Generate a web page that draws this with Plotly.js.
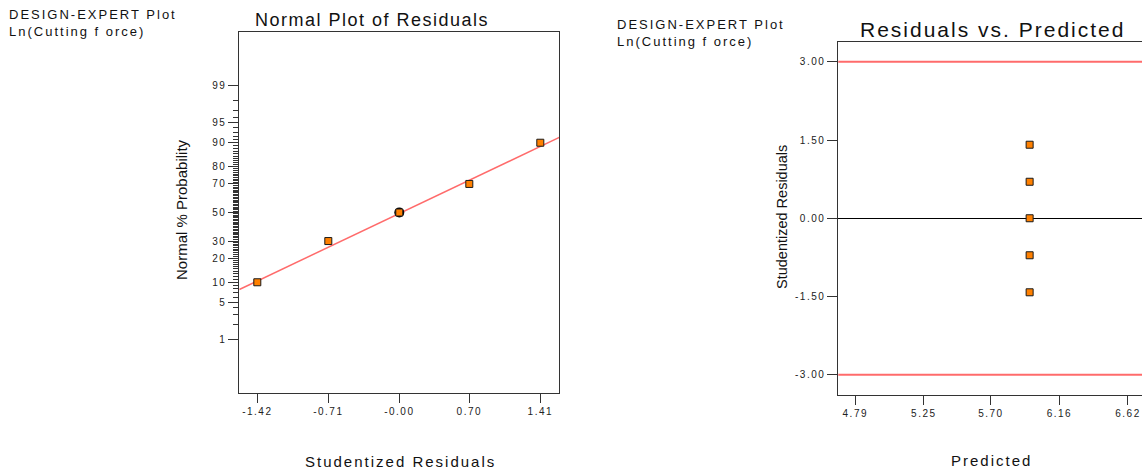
<!DOCTYPE html>
<html><head><meta charset="utf-8">
<script src="https://cdn.plot.ly/plotly-3.0.1.min.js"></script>
<style>
html,body{margin:0;padding:0;overflow:hidden;background:#fff}
.xtick text,.ytick text,.x2tick text,.y2tick text{letter-spacing:1.5px}
g.annotation[data-index="0"] text, g.annotation[data-index="1"] text{letter-spacing:2px}
g.annotation[data-index="2"] text{letter-spacing:1.5px}
g.annotation[data-index="3"] text{letter-spacing:2px}
g.annotation[data-index="4"] text, g.annotation[data-index="5"] text{letter-spacing:2px}
</style></head><body><div id="chart" style="width:1142px;height:470px"></div>
<script>
// ---- data ----
var residuals = [-1.42, -0.71, 0.00, 0.70, 1.41];        // studentized residuals
var normalProb = [10, 30, 50, 70, 90];                  // normal % probability
var multiPointRes = [0.00];                             // circled (repeated) point
var multiPointProb = [50];
var fitX = [-1.6, 1.6];                                 // fitted normal line ends
var fitProb = [7.85, 91.6];
var predicted = [5.96, 5.96, 5.96, 5.96, 5.96];
var residByRun = [1.41, 0.70, 0.00, -0.71, -1.42];
var limits = [-3.00, 3.00];
var resTickVals = [-1.42, -0.71, 0.00, 0.70, 1.41];
var resTickText = ['-1.42', '-0.71', '-0.00', '0.70', '1.41'];
var probTickVals = [1, 5, 10, 20, 30, 50, 70, 80, 90, 95, 99];
var probTickText = ['1', '5', '10', '20', '30', '50', '70', '80', '90', '95', '99'];
var predTickVals = [4.79, 5.25, 5.70, 6.16, 6.62];
var predTickText = ['4.79', '5.25', '5.70', '6.16', '6.62'];
var studTickVals = [-3, -1.5, 0, 1.5, 3];
var studTickText = ['-3.00', '-1.50', '0.00', '1.50', '3.00'];

// ---- normal probability scale (inverse normal CDF of percent) ----
function probit(pct) {
  var p = pct / 100;
  var a = [-3.969683028665376e+01, 2.209460984245205e+02, -2.759285104469687e+02, 1.383577518672690e+02, -3.066479806614716e+01, 2.506628277459239e+00];
  var b = [-5.447609879822406e+01, 1.615858368580409e+02, -1.556989798598866e+02, 6.680131188771972e+01, -1.328068155288572e+01];
  var c = [-7.784894002430293e-03, -3.223964580411365e-01, -2.400758277161838e+00, -2.549732539343734e+00, 4.374664141464968e+00, 2.938163982698783e+00];
  var d = [7.784695709041462e-03, 3.224671290700398e-01, 2.445134137142996e+00, 3.754408661907416e+00];
  var pl = 0.02425, q, r;
  if (p < pl) { q = Math.sqrt(-2 * Math.log(p));
    return (((((c[0]*q+c[1])*q+c[2])*q+c[3])*q+c[4])*q+c[5]) / ((((d[0]*q+d[1])*q+d[2])*q+d[3])*q+1); }
  if (p > 1 - pl) { q = Math.sqrt(-2 * Math.log(1 - p));
    return -(((((c[0]*q+c[1])*q+c[2])*q+c[3])*q+c[4])*q+c[5]) / ((((d[0]*q+d[1])*q+d[2])*q+d[3])*q+1); }
  q = p - 0.5; r = q * q;
  return (((((a[0]*r+a[1])*r+a[2])*r+a[3])*r+a[4])*r+a[5])*q / (((((b[0]*r+b[1])*r+b[2])*r+b[3])*r+b[4])*r+1);
}
var minorTicks = [];
for (var i = 1; i <= 99; i++) minorTicks.push(probit(i));

var W = 1142, H = 470;
function px(x) { return x / W; }
function py(y) { return 1 - y / H; }

var orange = '#FF8000', edge = '#1a1a1a', red = '#FF6B6B', axc = '#333333';

var traces = [
  {x: fitX, y: fitProb.map(probit), xaxis: 'x', yaxis: 'y', mode: 'lines',
   line: {color: red, width: 1.5}, hoverinfo: 'skip'},
  {x: multiPointRes, y: multiPointProb.map(probit), xaxis: 'x', yaxis: 'y', mode: 'markers',
   marker: {symbol: 'circle', size: 10, color: '#000'}},
  {x: residuals, y: normalProb.map(probit), xaxis: 'x', yaxis: 'y', mode: 'markers',
   marker: {symbol: 'square', size: 7, color: orange, line: {color: edge, width: 1}}},
  {x: predicted, y: residByRun, xaxis: 'x2', yaxis: 'y2', mode: 'markers',
   marker: {symbol: 'square', size: 7, color: orange, line: {color: edge, width: 1}}}
];

var tf = {family: 'Liberation Sans, Arial, sans-serif', size: 10, color: '#222'};
var layout = {
  width: W, height: H, margin: {l: 0, r: 0, t: 0, b: 0}, showlegend: false,
  paper_bgcolor: '#fff', plot_bgcolor: '#fff',
  font: {family: 'Liberation Sans, Arial, sans-serif', color: '#111'},
  xaxis: {domain: [px(239.3), px(559.3)], range: [-1.6, 1.6], anchor: 'y',
    tickmode: 'array', tickvals: resTickVals, ticktext: resTickText,
    ticks: 'outside', ticklen: 9, tickcolor: axc, tickfont: tf,
    showline: true, linecolor: axc, linewidth: 1, mirror: true,
    showgrid: false, zeroline: false},
  yaxis: {domain: [py(392.7), py(32.3)], range: [-3.31, 3.31], anchor: 'x',
    tickmode: 'array', tickvals: probTickVals.map(probit), ticktext: probTickText,
    ticks: 'outside', ticklen: 10, tickcolor: axc, tickfont: tf,
    minor: {tickmode: 'array', tickvals: minorTicks, ticks: 'outside', ticklen: 5, tickcolor: axc, showgrid: false},
    showline: true, linecolor: axc, linewidth: 1, mirror: true,
    showgrid: false, zeroline: false},
  xaxis2: {domain: [px(838.3), 1], range: [4.676, 6.714], anchor: 'y2',
    tickmode: 'array', tickvals: predTickVals, ticktext: predTickText,
    ticks: 'outside', ticklen: 9, tickcolor: axc, tickfont: tf,
    showline: true, linecolor: axc, linewidth: 1, mirror: true,
    showgrid: false, zeroline: false},
  yaxis2: {domain: [py(395), py(41.5)], range: [-3.39, 3.39], anchor: 'x2',
    tickmode: 'array', tickvals: studTickVals, ticktext: studTickText,
    ticks: 'outside', ticklen: 10, tickcolor: axc, tickfont: tf,
    showline: true, linecolor: axc, linewidth: 1, mirror: false,
    showgrid: false, zeroline: true, zerolinecolor: '#000', zerolinewidth: 1},
  shapes: limits.map(function (v) {
    return {type: 'line', xref: 'x2 domain', yref: 'y2', x0: 0, x1: 1, y0: v, y1: v,
      line: {color: red, width: 2}};
  }),
  annotations: [
    {text: 'DESIGN-EXPERT Plot<br>Ln(Cutting f orce)', xref: 'paper', yref: 'paper',
     x: px(7), y: py(5), xanchor: 'left', yanchor: 'top', align: 'left', showarrow: false,
     font: {size: 13, color: '#111'}},
    {text: 'DESIGN-EXPERT Plot<br>Ln(Cutting f orce)', xref: 'paper', yref: 'paper',
     x: px(615), y: py(15), xanchor: 'left', yanchor: 'top', align: 'left', showarrow: false,
     font: {size: 13, color: '#111'}},
    {text: 'Normal Plot of Residuals', xref: 'paper', yref: 'paper',
     x: px(372), y: py(20), xanchor: 'center', yanchor: 'middle', showarrow: false,
     font: {size: 18, color: '#111'}},
    {text: 'Residuals vs. Predicted', xref: 'paper', yref: 'paper',
     x: px(992), y: py(30), xanchor: 'center', yanchor: 'middle', showarrow: false,
     font: {size: 21, color: '#111'}},
    {text: 'Studentized Residuals', xref: 'paper', yref: 'paper',
     x: px(400), y: py(461), xanchor: 'center', yanchor: 'middle', showarrow: false,
     font: {size: 15, color: '#111'}},
    {text: 'Predicted', xref: 'paper', yref: 'paper',
     x: px(991), y: py(460), xanchor: 'center', yanchor: 'middle', showarrow: false,
     font: {size: 15, color: '#111'}},
    {text: 'Normal % Probability', xref: 'paper', yref: 'paper', textangle: -90,
     x: px(181), y: py(210), xanchor: 'center', yanchor: 'middle', showarrow: false,
     font: {size: 15, color: '#111'}},
    {text: 'Studentized Residuals', xref: 'paper', yref: 'paper', textangle: -90,
     x: px(782), y: py(217), xanchor: 'center', yanchor: 'middle', showarrow: false,
     font: {size: 14.5, color: '#111'}}
  ]
};
Plotly.newPlot('chart', traces, layout, {staticPlot: true, displayModeBar: false});
</script></body></html>
